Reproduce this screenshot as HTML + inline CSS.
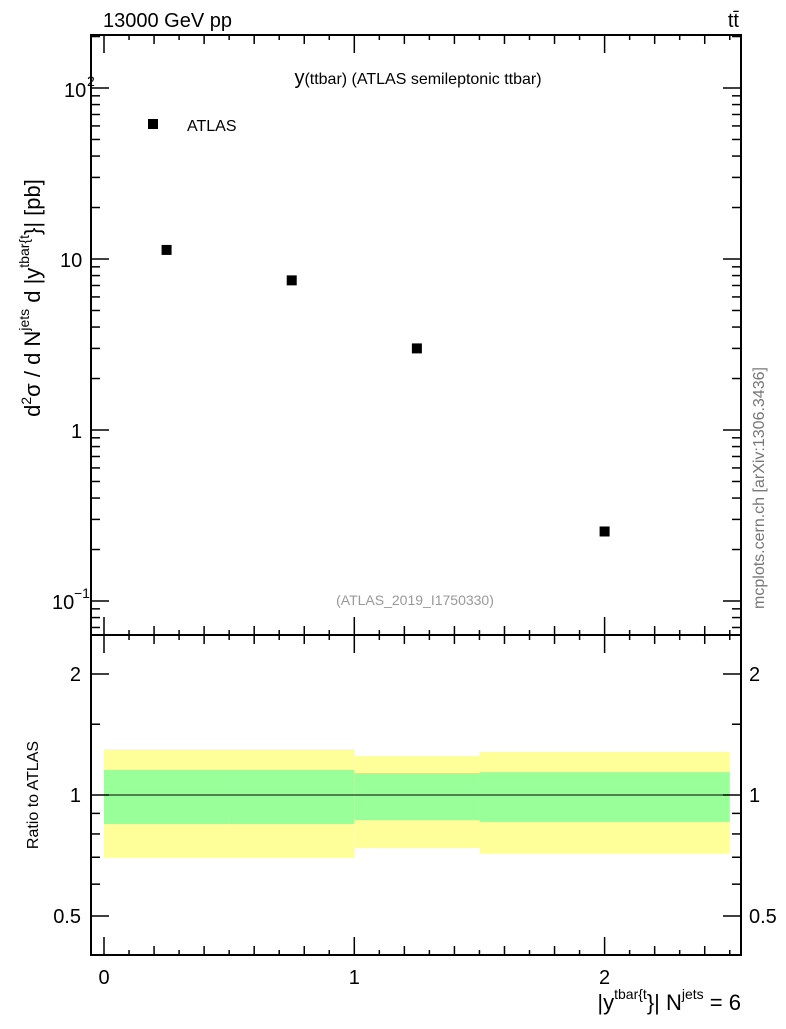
<!DOCTYPE html>
<html><head><meta charset="utf-8"><style>
body{margin:0;background:#fff;}
svg{font-family:"Liberation Sans",sans-serif;}
</style></head><body>
<svg id="c" width="786" height="1024" viewBox="0 0 786 1024" xmlns="http://www.w3.org/2000/svg"></svg>
<script>
const binEdges=[0,0.5,1,1.5,2.5];
const xValues=[0.25,0.75,1.25,2.0];
const yValues=[11.3,7.5,3.0,0.255];
const yellowUp=[1.30,1.30,1.25,1.28];
const yellowDn=[0.70,0.70,0.738,0.717];
const greenUp=[1.154,1.154,1.134,1.14];
const greenDn=[0.847,0.847,0.866,0.857];
const xTickLabels=["0","1","2"];
const ratioTickLabels=["0.5","1","2"];

const NS="http://www.w3.org/2000/svg";
const svg=document.getElementById('c');
const L=91,R=741,T=35,M=635,B=955;
const X=v=>104+v*250.3;
const Y=v=>430-171*Math.log10(v);
const YR=v=>795-121*Math.log2(v);
function mk(tag,attrs,parent){const e=document.createElementNS(NS,tag);for(const k in attrs)e.setAttribute(k,attrs[k]);(parent||svg).appendChild(e);return e;}
function txt(s,x,y,size,anchor,fill){const t=mk('text',{x:x,y:y,'font-size':size,'text-anchor':anchor||'start',fill:fill||'#000'});t.textContent=s;return t;}

for(let i=0;i<xValues.length;i++){
 const r=mk('rect',{x:X(binEdges[i]),y:YR(yellowUp[i]),width:X(binEdges[i+1])-X(binEdges[i]),height:YR(yellowDn[i])-YR(yellowUp[i]),fill:'#ffff99'});
 
 
 const g=mk('rect',{x:X(binEdges[i]),y:YR(greenUp[i]),width:X(binEdges[i+1])-X(binEdges[i]),height:YR(greenDn[i])-YR(greenUp[i]),fill:'#99ff99'});
 
 
}
const ln=mk('line',{x1:X(binEdges[0]),x2:X(binEdges[binEdges.length-1]),y1:YR(1),y2:YR(1),stroke:'#000','stroke-width':1});



const f1=mk('rect',{x:L,y:T,width:R-L,height:M-T,fill:'none',stroke:'#000','stroke-width':2});


const f2=mk('rect',{x:L,y:M,width:R-L,height:B-M,fill:'none',stroke:'#000','stroke-width':2});



for(let k=0;k<=25;k++){
 const v=k/10,x=X(v);
 const len=(k%10===0)?18:(k%2===0?9:5);
 for(const base of [M,B]){
  mk('line',{x1:x,x2:x,y1:base,y2:base-len,stroke:'#000','stroke-width':1.5});
  mk('line',{x1:x,x2:x,y1:(base===M?T:M),y2:(base===M?T:M)+len,stroke:'#000','stroke-width':1.5});
 }
}
xTickLabels.forEach((s,i)=>{const t=txt(s,X(+s),984,20,'middle');});

for(let d=-2;d<=2;d++){
 for(let m=1;m<=9;m++){
  const v=m*Math.pow(10,d),y=Y(v);
  if(y<T||y>M)continue;
  const len=m===1?18:9;
  mk('line',{x1:L,x2:L+len,y1:y,y2:y,stroke:'#000','stroke-width':1.5});
  mk('line',{x1:R,x2:R-len,y1:y,y2:y,stroke:'#000','stroke-width':1.5});
 }
}
let t;
t=txt('10',64,97,20);
txt('2',87,86,14);
t=txt('10',60,267,20);
t=txt('1',71,438,20);
t=txt('10',52,609,20);
txt('−1',74,598,14);

for(const v of [0.5,0.6,0.7,0.8,0.9,1,1.5,2]){
 const y=YR(v),len=(v===0.5||v===1||v===2)?18:9;
 mk('line',{x1:L,x2:L+len,y1:y,y2:y,stroke:'#000','stroke-width':1.5});
 mk('line',{x1:R,x2:R-len,y1:y,y2:y,stroke:'#000','stroke-width':1.5});
}
ratioTickLabels.forEach(s=>{
 const a=txt(s,81,YR(+s)+7,20,'end');
 const b=txt(s,749,YR(+s)+7,20,'start');
});

for(let i=0;i<xValues.length;i++){
 const p=mk('rect',{x:X(xValues[i])-5,y:Y(yValues[i])-5,width:10,height:10,fill:'#000'});
 
 
}
const lg=mk('rect',{x:148,y:119,width:10,height:10,fill:'#000'});


t=txt('ATLAS',187,131,16);

t=txt('13000 GeV pp',103,27,20);
t=txt('tt̄',739,27,20,'end');
t=mk('text',{x:418,y:84,'font-size':16,'text-anchor':'middle'});t.innerHTML='<tspan font-size="20">y</tspan>(ttbar) (ATLAS semileptonic ttbar)';

t=txt('(ATLAS_2019_I1750330)',415,605,14,'middle','#999');

t=txt('mcplots.cern.ch [arXiv:1306.3436]',764,488,16,'middle','#777');t.setAttribute('transform','rotate(-90 764 488)');


t=mk('text',{x:0,y:0,'font-size':22,transform:'translate(40 298) rotate(-90)','text-anchor':'middle'});
t.innerHTML='d<tspan dy="-9" font-size="14">2</tspan><tspan dy="9">σ / d N</tspan><tspan dy="-11" font-size="14">jets</tspan><tspan dy="11"> d |y</tspan><tspan dy="-11" font-size="14">tbar{t</tspan><tspan dy="11">}| [pb]</tspan>';

t=txt('Ratio to ATLAS',38,795,16,'middle');t.setAttribute('transform','rotate(-90 38 795)');

t=mk('text',{x:741,y:1010,'font-size':22,'text-anchor':'end'});
t.innerHTML='|y<tspan dy="-11" font-size="14">tbar{t</tspan><tspan dy="11">}| N</tspan><tspan dy="-11" font-size="14">jets</tspan><tspan dy="11"> = 6</tspan>';

</script>
</body></html>
